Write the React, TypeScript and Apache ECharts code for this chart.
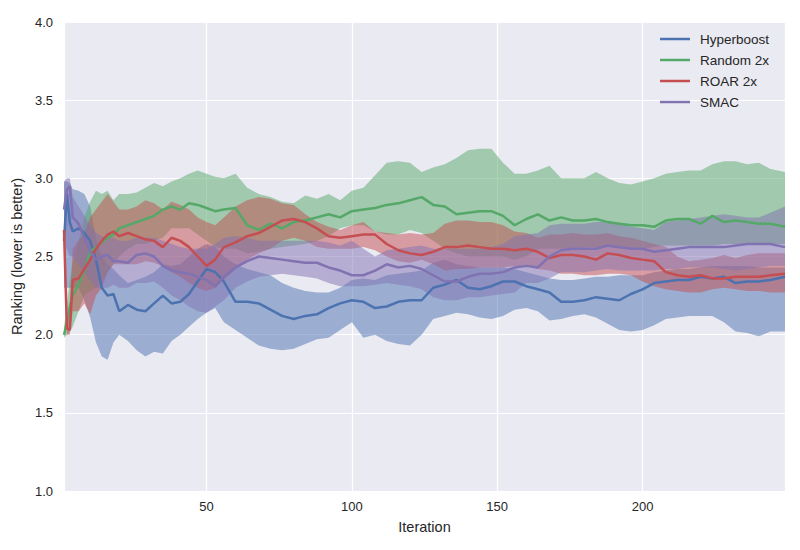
import React, { useEffect, useRef } from "react";
import * as echarts from "echarts";

const ITER = [1,2,3,4,6,8,10,12,14,16,18,20,23,26,29,32,35,38,41,44,47,50,53,56,60,64,68,72,76,80,84,88,92,96,100,104,108,112,116,120,124,128,132,136,140,144,148,152,156,160,164,168,172,176,180,184,188,192,196,200,204,208,212,216,220,224,228,232,236,240,244,249];

const hyperMean = [2.6,2.9,2.72,2.66,2.68,2.65,2.6,2.48,2.3,2.25,
 2.26,2.15,2.19,2.16,2.15,2.2,2.25,2.2,2.21,2.26,
 2.34,2.42,2.4,2.34,2.21,2.21,2.2,2.16,2.12,2.1,
 2.12,2.13,2.17,2.2,2.22,2.21,2.17,2.18,2.21,2.22,
 2.22,2.3,2.32,2.35,2.3,2.29,2.31,2.34,2.34,2.31,
 2.29,2.27,2.21,2.21,2.22,2.24,2.23,2.22,2.26,2.29,
 2.33,2.34,2.35,2.35,2.37,2.36,2.37,2.33,2.34,2.34,
 2.35,2.37];
const hyperHigh = [2.98,2.98,2.97,2.93,2.92,2.9,2.82,2.62,2.5,2.45,
 2.42,2.38,2.33,2.35,2.37,2.4,2.45,2.44,2.45,2.5,
 2.55,2.58,2.56,2.5,2.45,2.42,2.4,2.38,2.33,2.3,
 2.28,2.27,2.27,2.3,2.35,2.36,2.35,2.38,2.39,2.4,
 2.41,2.46,2.48,2.45,2.44,2.43,2.43,2.43,2.42,2.4,
 2.38,2.36,2.35,2.35,2.36,2.37,2.37,2.38,2.38,2.38,
 2.4,2.41,2.42,2.42,2.43,2.44,2.44,2.44,2.44,2.43,
 2.43,2.43];
const hyperLow = [2.3,2.3,2.3,2.3,2.3,2.22,2.11,1.95,1.86,1.84,
 1.95,2.0,1.96,1.9,1.86,1.89,1.88,1.96,2.0,2.05,
 2.1,2.14,2.17,2.08,2.03,1.98,1.93,1.91,1.9,1.91,
 1.94,1.97,1.98,2.03,2.08,1.98,2.0,1.96,1.94,1.93,
 2.0,2.1,2.12,2.14,2.13,2.11,2.1,2.12,2.16,2.17,
 2.15,2.09,2.1,2.12,2.13,2.11,2.07,2.03,2.02,2.03,
 2.06,2.1,2.11,2.12,2.12,2.12,2.08,2.02,2.01,1.99,
 2.02,2.02];

const randomMean = [2.0,2.08,2.18,2.25,2.32,2.41,2.53,2.56,2.59,2.62,
 2.64,2.68,2.7,2.72,2.74,2.76,2.8,2.82,2.8,2.84,
 2.83,2.81,2.79,2.8,2.81,2.7,2.67,2.71,2.68,2.72,
 2.73,2.75,2.77,2.75,2.79,2.8,2.81,2.83,2.84,2.86,
 2.88,2.83,2.82,2.77,2.78,2.79,2.79,2.76,2.7,2.74,
 2.77,2.73,2.75,2.73,2.73,2.74,2.72,2.71,2.7,2.7,
 2.69,2.73,2.74,2.74,2.71,2.76,2.72,2.73,2.72,2.71,
 2.71,2.69];
const randomHigh = [2.05,2.2,2.35,2.45,2.6,2.75,2.85,2.92,2.9,2.92,
 2.86,2.9,2.9,2.91,2.94,2.97,2.95,2.98,3.0,3.03,
 3.05,3.03,3.01,3.0,3.03,2.94,2.9,2.88,2.85,2.84,
 2.89,2.87,2.9,2.86,2.92,2.94,3.02,3.1,3.11,3.1,
 3.04,3.07,3.09,3.13,3.18,3.19,3.19,3.1,3.03,3.03,
 3.05,3.08,3.0,3.0,3.0,3.04,3.0,2.97,2.96,2.98,
 3.0,3.03,3.04,3.05,3.05,3.09,3.11,3.11,3.09,3.1,
 3.06,3.04];
const randomLow = [1.98,2.0,2.02,2.05,2.15,2.25,2.28,2.3,2.35,2.4,
 2.45,2.5,2.55,2.58,2.58,2.6,2.62,2.68,2.68,2.68,
 2.64,2.6,2.56,2.55,2.55,2.52,2.53,2.55,2.56,2.57,
 2.58,2.6,2.63,2.68,2.7,2.7,2.66,2.64,2.64,2.67,
 2.65,2.6,2.55,2.52,2.5,2.5,2.5,2.5,2.48,2.5,
 2.55,2.55,2.55,2.55,2.56,2.56,2.56,2.55,2.55,2.55,
 2.56,2.57,2.57,2.57,2.57,2.57,2.58,2.58,2.58,2.58,
 2.58,2.58];

const roarMean = [2.67,2.04,2.03,2.35,2.36,2.42,2.48,2.55,2.6,2.64,
 2.66,2.63,2.65,2.63,2.61,2.6,2.56,2.62,2.6,2.56,
 2.5,2.44,2.48,2.56,2.59,2.63,2.65,2.69,2.73,2.74,
 2.72,2.68,2.63,2.62,2.63,2.64,2.64,2.58,2.54,2.52,
 2.51,2.53,2.56,2.56,2.57,2.56,2.55,2.55,2.54,2.55,
 2.53,2.49,2.51,2.51,2.5,2.48,2.52,2.51,2.49,2.48,
 2.47,2.4,2.38,2.37,2.38,2.36,2.36,2.37,2.37,2.37,
 2.38,2.39];
const roarHigh = [2.75,2.1,2.2,2.55,2.6,2.65,2.75,2.8,2.85,2.9,
 2.85,2.8,2.8,2.82,2.86,2.84,2.8,2.85,2.83,2.8,
 2.75,2.72,2.7,2.75,2.82,2.86,2.88,2.87,2.84,2.83,
 2.77,2.72,2.69,2.67,2.7,2.72,2.66,2.65,2.64,2.65,
 2.64,2.65,2.71,2.73,2.73,2.72,2.72,2.7,2.66,2.65,
 2.62,2.64,2.64,2.65,2.64,2.64,2.65,2.63,2.62,2.6,
 2.58,2.56,2.5,2.47,2.48,2.49,2.51,2.49,2.51,2.52,
 2.52,2.52];
const roarLow = [2.6,2.0,2.0,2.15,2.15,2.2,2.13,2.25,2.3,2.4,
 2.45,2.45,2.45,2.45,2.47,2.46,2.44,2.4,2.37,2.33,
 2.3,2.28,2.3,2.35,2.42,2.48,2.52,2.55,2.6,2.62,
 2.6,2.56,2.55,2.55,2.55,2.56,2.54,2.5,2.47,2.46,
 2.48,2.45,2.41,2.42,2.42,2.43,2.43,2.43,2.44,2.44,
 2.42,2.41,2.39,2.39,2.38,2.38,2.39,2.39,2.38,2.34,
 2.31,2.29,2.28,2.27,2.27,2.29,2.3,2.29,2.28,2.28,
 2.27,2.27];

const smacMean = [2.8,2.93,2.95,2.75,2.71,2.62,2.53,2.48,2.5,2.51,
 2.47,2.47,2.46,2.51,2.52,2.5,2.44,2.41,2.4,2.39,
 2.37,2.35,2.31,2.37,2.43,2.47,2.5,2.49,2.48,2.47,
 2.46,2.46,2.43,2.41,2.38,2.38,2.41,2.45,2.43,2.44,
 2.42,2.38,2.34,2.34,2.37,2.39,2.39,2.4,2.43,2.44,
 2.43,2.5,2.54,2.55,2.55,2.55,2.57,2.56,2.55,2.55,
 2.53,2.54,2.55,2.56,2.56,2.56,2.56,2.57,2.58,2.58,
 2.58,2.56];
const smacHigh = [2.98,3.0,3.0,2.88,2.82,2.76,2.7,2.65,2.63,2.62,
 2.62,2.6,2.6,2.62,2.62,2.62,2.6,2.58,2.56,2.55,
 2.55,2.55,2.58,2.62,2.63,2.62,2.6,2.6,2.6,2.6,
 2.6,2.6,2.59,2.57,2.6,2.55,2.5,2.54,2.55,2.56,
 2.57,2.55,2.55,2.55,2.55,2.55,2.56,2.58,2.63,2.64,
 2.65,2.7,2.71,2.71,2.71,2.72,2.72,2.71,2.69,2.68,
 2.67,2.72,2.73,2.74,2.75,2.76,2.77,2.76,2.75,2.75,
 2.78,2.82];
const smacLow = [2.55,2.55,2.5,2.5,2.45,2.4,2.35,2.3,2.3,2.3,
 2.32,2.3,2.3,2.33,2.33,2.34,2.3,2.25,2.22,2.18,
 2.15,2.14,2.18,2.22,2.3,2.34,2.37,2.38,2.39,2.38,
 2.37,2.36,2.33,2.31,2.31,2.31,2.32,2.33,2.32,2.31,
 2.29,2.24,2.22,2.22,2.24,2.24,2.25,2.26,2.27,2.33,
 2.33,2.36,2.4,2.4,2.4,2.41,2.42,2.41,2.41,2.41,
 2.41,2.42,2.42,2.43,2.43,2.43,2.42,2.41,2.42,2.43,
 2.44,2.44];

const NAMES = ["Hyperboost", "Random 2x", "ROAR 2x", "SMAC"];
const COLORS = ["#4C72B0", "#55A868", "#C44E52", "#8172B2"];
const MEANS = [hyperMean, randomMean, roarMean, smacMean];
const LOWS = [hyperLow, randomLow, roarLow, smacLow];
const HIGHS = [hyperHigh, randomHigh, roarHigh, smacHigh];

const FONT = "'Liberation Sans', Arial, sans-serif";
const TEXT = "#262626";

export default function App() {
  const ref = useRef<HTMLDivElement>(null);
  useEffect(() => {
    if (!ref.current) return;
    const chart = echarts.init(ref.current, null, { renderer: "svg" });
    const bandSeries = NAMES.map((name, k) => ({
      type: "custom",
      name: name + " band",
      silent: true,
      z: 1,
      clip: true,
      encode: { x: 0, y: [1, 2] },
      data: ITER.map((x, i) => [x, LOWS[k][i], HIGHS[k][i]]),
      renderItem: (params: any, api: any) => {
        if (params.dataIndex !== 0) return null;
        const upper = ITER.map((x, i) => api.coord([x, HIGHS[k][i]]));
        const lower = ITER.map((x, i) => api.coord([x, LOWS[k][i]])).reverse();
        return {
          type: "polygon",
          shape: { points: upper.concat(lower) },
          style: { fill: COLORS[k], opacity: 0.5 },
        };
      },
    }));
    const lineSeries = NAMES.map((name, k) => ({
      type: "line",
      name,
      data: ITER.map((x, i) => [x, MEANS[k][i]]),
      showSymbol: false,
      color: COLORS[k],
      lineStyle: { color: COLORS[k], width: 2.5 },
      z: 3,
    }));
    chart.setOption({
      animation: false,
      backgroundColor: "#ffffff",
      textStyle: { fontFamily: FONT, color: TEXT },
      grid: {
        left: 64,
        right: 15,
        top: 22,
        bottom: 59,
        show: true,
        backgroundColor: "#EAEAF2",
        borderWidth: 0,
      },
      legend: {
        data: NAMES,
        orient: "vertical",
        left: 660,
        top: 32,
        padding: 0,
        itemWidth: 30,
        itemHeight: 2.5,
        itemGap: 7,
        icon: "rect",
        textStyle: {
          fontFamily: FONT,
          fontSize: 13.5,
          color: TEXT,
          lineHeight: 14,
          padding: [0, 0, 0, 5],
        },
      },
      xAxis: {
        type: "value",
        min: 1,
        max: 249,
        name: "Iteration",
        nameLocation: "middle",
        nameGap: 28,
        nameTextStyle: { fontFamily: FONT, fontSize: 14.5, color: TEXT },
        axisLine: { show: false },
        axisTick: { show: false },
        axisLabel: {
          fontFamily: FONT,
          fontSize: 13,
          color: TEXT,
          margin: 9,
          showMinLabel: false,
          showMaxLabel: false,
          formatter: (v: number) => (v % 50 === 0 ? String(v) : ""),
        },
        splitLine: { show: true, lineStyle: { color: "#ffffff", width: 1.2 } },
      },
      yAxis: {
        type: "value",
        min: 1,
        max: 4,
        interval: 0.5,
        name: "Ranking (lower is better)",
        nameLocation: "middle",
        nameGap: 33,
        nameTextStyle: { fontFamily: FONT, fontSize: 14.5, color: TEXT },
        axisLine: { show: false },
        axisTick: { show: false },
        axisLabel: {
          fontFamily: FONT,
          fontSize: 13,
          color: TEXT,
          margin: 11,
          formatter: (v: number) => v.toFixed(1),
        },
        splitLine: { show: true, lineStyle: { color: "#ffffff", width: 1.2 } },
      },
      series: [...bandSeries, ...lineSeries],
    });
    return () => chart.dispose();
  }, []);
  return (
    <div
      ref={ref}
      style={{ position: "absolute", left: 0, top: 0, width: 800, height: 550 }}
    />
  );
}
